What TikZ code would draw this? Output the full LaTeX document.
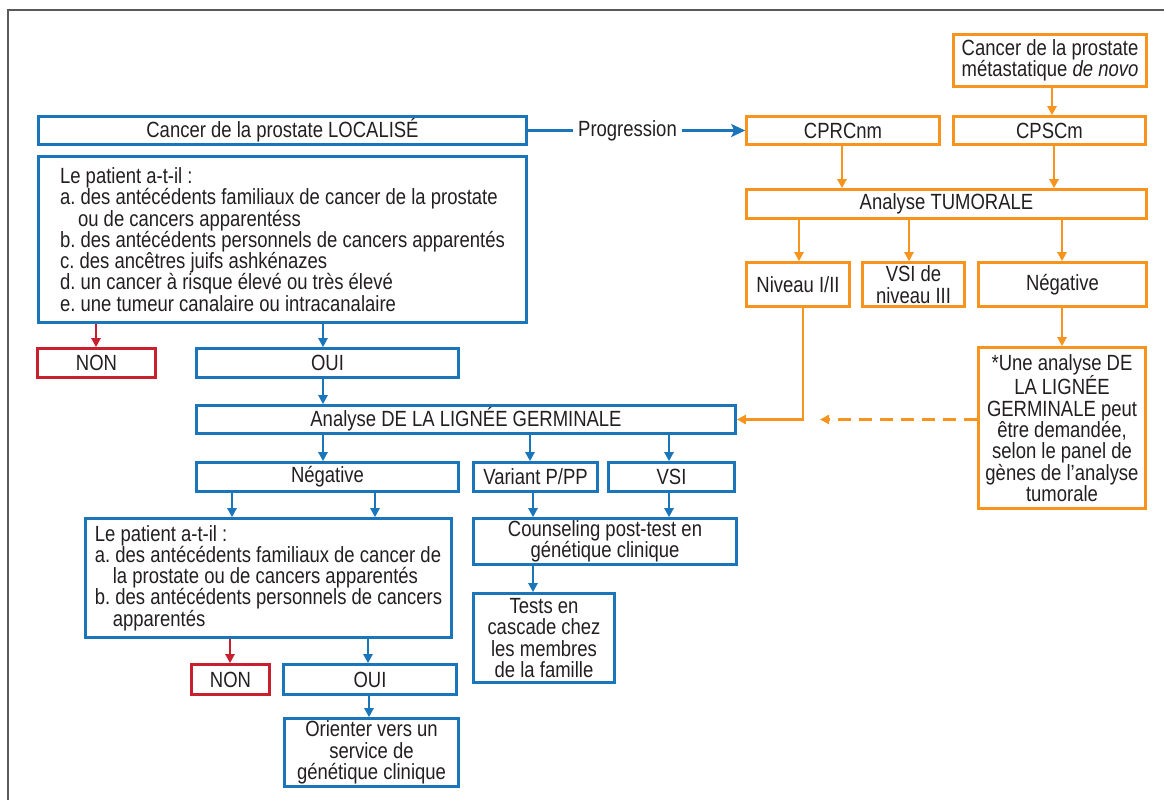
\documentclass[tikz,border=0pt]{standalone}
\usepackage{fontspec}
\setmainfont{Liberation Sans}[FakeStretch=0.84]
\usetikzlibrary{arrows.meta}
\definecolor{cblue}{HTML}{1B75BB}
\definecolor{corange}{HTML}{F7941D}
\definecolor{cred}{HTML}{C8202F}
\definecolor{ctext}{HTML}{231F20}
\definecolor{cframe}{HTML}{5A5A5A}
\newcommand\myfs{\fontsize{22}{21.3}\selectfont\frenchspacing}
\newcommand\pbox[7][]{\node[boxbase,#1,minimum width={#5-#3-3},minimum height={#6-#4-3}] (#2) at ({(#3+#5)/2},{(#4+#6)/2}) {#7};}
\tikzset{
  boxbase/.style={draw, line width=2.6pt, inner sep=0pt, align=center, text=ctext, font=\myfs},
  bbox/.style={draw=cblue},
  obox/.style={draw=corange},
  rbox/.style={draw=cred},
  conn/.style={line width=2.3pt, -{Triangle[length=9pt,width=9pt]}},
  bconn/.style={conn, draw=cblue},
  oconn/.style={conn, draw=corange},
  rconn/.style={conn, draw=cred},
}
\begin{document}
\begin{tikzpicture}[x=1pt,y=-1pt]
\useasboundingbox (0,0) rectangle (1164,800);
\draw[cframe, line width=1.5pt] (8,800) -- (8,10) -- (1164,10);

% blue boxes
\pbox[bbox]{loc}{37}{115}{528}{146}{Cancer de la prostate LOCALISÉ}
\pbox[bbox,align=left]{pat1}{37}{155}{528}{324}{Le patient a-t-il :\\
a. des antécédents familiaux de cancer de la prostate\\
\hspace*{18pt}ou de cancers apparentéss\\
b. des antécédents personnels de cancers apparentés\\
c. des ancêtres juifs ashkénazes\\
d. un cancer à risque élevé ou très élevé\\
e. une tumeur canalaire ou intracanalaire}
\pbox[rbox]{non1}{36}{347}{157}{379}{NON}
\pbox[bbox]{oui1}{195}{347}{460}{379}{OUI}
\pbox[bbox]{germ}{195}{404}{737}{435}{Analyse DE LA LIGNÉE GERMINALE}
\pbox[bbox]{neg1}{195}{461}{460}{493}{Négative}
\pbox[bbox]{var}{472}{461}{599}{493}{Variant P/PP}
\pbox[bbox]{vsi}{607}{461}{736}{493}{VSI}
\pbox[bbox]{couns}{472}{517}{738}{566}{Counseling post-test en\\génétique clinique}
\pbox[bbox]{tests}{472}{592}{616}{684}{Tests en\\cascade chez\\les membres\\de la famille}
\pbox[bbox,align=left]{pat2}{84}{517}{453}{639}{Le patient a-t-il :\\
a. des antécédents familiaux de cancer de\\
\hspace*{18pt}la prostate ou de cancers apparentés\\
b. des antécédents personnels de cancers\\
\hspace*{18pt}apparentés}
\pbox[rbox]{non2}{190}{663}{271}{696}{NON}
\pbox[bbox]{oui2}{282}{663}{458}{696}{OUI}
\pbox[bbox]{orient}{283}{717}{460}{788}{Orienter vers un\\service de\\génétique clinique}

% orange boxes
\pbox[obox]{meta}{952}{33}{1148}{88}{Cancer de la prostate\\métastatique \textit{de novo}}
\pbox[obox]{cprc}{745}{115}{941}{146}{CPRCnm}
\pbox[obox]{cpsc}{952}{115}{1147}{146}{CPSCm}
\pbox[obox]{tumo}{745}{188}{1148}{220}{Analyse TUMORALE}
\pbox[obox]{niv}{745}{261}{851}{308}{Niveau I/II}
\pbox[obox]{vsi3}{861}{261}{966}{308}{VSI de\\niveau III}
\pbox[obox]{neg2}{977}{261}{1148}{308}{Négative}
\pbox[obox]{une}{977}{346}{1147}{510}{*Une analyse DE\\LA LIGNÉE\\GERMINALE peut\\être demandée,\\selon le panel de\\gènes de l’analyse\\tumorale}

\node[font=\myfs, text=ctext, inner xsep=5pt, inner ysep=0pt] (prog) at (627.5,130.5) {Progression};
\coordinate (dashend) at (820,419.5);

% connectors
\draw[cblue, line width=2.3pt] (loc.east) -- (prog.west);
\draw[cblue, line width=2.3pt, -{Stealth[length=14pt,width=13pt,inset=3pt]}] (prog.east) -- (cprc.west);
\draw[rconn] (pat1.south -| 96,0) -- (non1.north -| 96,0);
\draw[bconn] (pat1.south -| 323,0) -- (oui1.north -| 323,0);
\draw[bconn] (oui1.south -| 323,0) -- (germ.north -| 323,0);
\draw[bconn] (germ.south -| 323,0) -- (neg1.north -| 323,0);
\draw[bconn] (germ.south -| 530,0) -- (var.north -| 530,0);
\draw[bconn] (germ.south -| 669,0) -- (vsi.north -| 669,0);
\draw[bconn] (var.south -| 533,0) -- (couns.north -| 533,0);
\draw[bconn] (vsi.south -| 669,0) -- (couns.north -| 669,0);
\draw[bconn] (couns.south -| 533,0) -- (tests.north -| 533,0);
\draw[bconn] (neg1.south -| 232,0) -- (pat2.north -| 232,0);
\draw[bconn] (neg1.south -| 375,0) -- (pat2.north -| 375,0);
\draw[rconn] (pat2.south -| 230,0) -- (non2.north -| 230,0);
\draw[bconn] (pat2.south -| 368,0) -- (oui2.north -| 368,0);
\draw[bconn] (oui2.south -| 369,0) -- (orient.north -| 369,0);

\draw[oconn] (meta.south -| 1052,0) -- (cpsc.north -| 1052,0);
\draw[oconn] (cprc.south -| 842,0) -- (tumo.north -| 842,0);
\draw[oconn] (cpsc.south -| 1054,0) -- (tumo.north -| 1054,0);
\draw[oconn] (tumo.south -| 799,0) -- (niv.north -| 799,0);
\draw[oconn] (tumo.south -| 909,0) -- (vsi3.north -| 909,0);
\draw[oconn] (tumo.south -| 1062,0) -- (neg2.north -| 1062,0);
\draw[oconn] (neg2.south -| 1062,0) -- (une.north -| 1062,0);
\draw[oconn] (niv.south -| 803,0) |- (germ.east);
\draw[oconn, dash pattern=on 13pt off 8pt] (une.west |- germ.east) -- (dashend);
\end{tikzpicture}
\end{document}
